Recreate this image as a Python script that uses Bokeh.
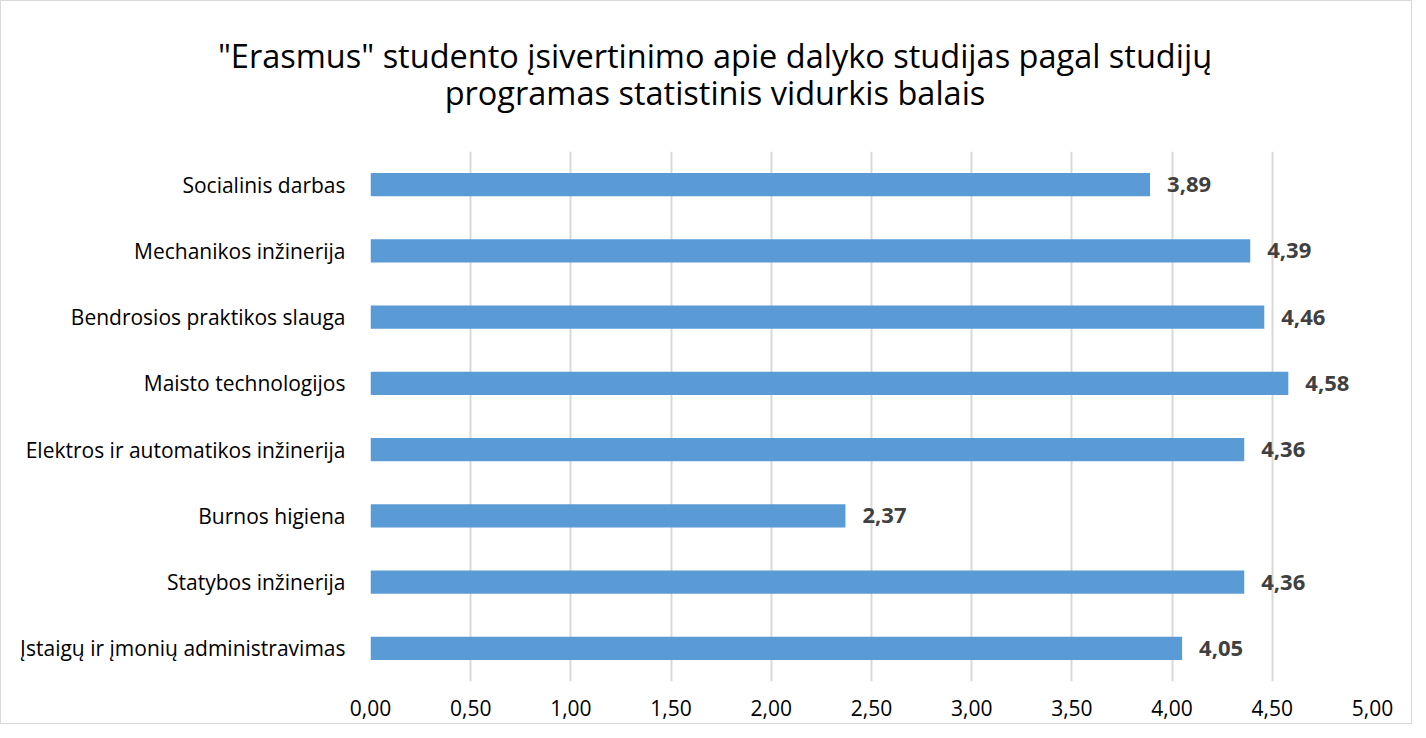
import html
from bokeh.plotting import figure
from bokeh.models import ColumnDataSource, FixedTicker, CustomJSTickFormatter, Div
from bokeh.layouts import column
from bokeh.core.properties import value
from bokeh.embed import file_html
from bokeh.resources import INLINE

categories = [
    "Socialinis darbas",
    "Mechanikos inžinerija",
    "Bendrosios praktikos slauga",
    "Maisto technologijos",
    "Elektros ir automatikos inžinerija",
    "Burnos higiena",
    "Statybos inžinerija",
    "Įstaigų ir įmonių administravimas",
]
values = [3.89, 4.39, 4.46, 4.58, 4.36, 2.37, 4.36, 4.05]
tick_values = [0.0, 0.5, 1.0, 1.5, 2.0, 2.5, 3.0, 3.5, 4.0, 4.5, 5.0]
tick_labels = ["0,00", "0,50", "1,00", "1,50", "2,00", "2,50", "3,00", "3,50", "4,00", "4,50", "5,00"]
title_lines = [
    "\"Erasmus\" studento įsivertinimo apie dalyko studijas pagal studijų",
    "programas statistinis vidurkis balais",
]

FONT = "Open Sans"
W, H = 1410, 722
TH = 150            # height of the title strip
FL, FR = 369, 1371  # frame left / right in picture pixels
FRAME_H = 530

# ---- title strip --------------------------------------------------------
title_html = (
    '<div style="position:relative;left:9px;width:%dpx;padding-top:36px;'
    "text-align:center;white-space:nowrap;"
    "font-family:'Open Sans';font-size:32.5px;line-height:37px;color:#000000;\">"
    % W
    + "<br>".join(html.escape(line) for line in title_lines)
    + "</div>"
)
title_div = Div(text=title_html, width=W, height=TH, margin=0)

# ---- bar chart ----------------------------------------------------------
source = ColumnDataSource(dict(
    cat=categories,
    val=values,
    lbl=[f"{v:.2f}".replace(".", ",") for v in values],
))

p = figure(
    width=W, height=H - TH,
    y_range=list(reversed(categories)),
    x_range=(0, 5),
    output_backend="svg",
    toolbar_location=None,
    min_border_left=FL, min_border_right=W - FR,
    min_border_top=0, min_border_bottom=H - TH - FRAME_H,
)
p.outline_line_color = None
p.background_fill_color = "white"
p.border_fill_color = "white"

p.hbar(y="cat", right="val", left=0, height=0.35, source=source,
       fill_color="#5B9BD5", line_color=None)

p.text(x="val", y="cat", text="lbl", source=source,
       x_offset=17, text_baseline="middle", text_align="left",
       text_font=value(FONT), text_font_style="bold",
       text_font_size="22px", text_color="#404040")

p.xaxis.ticker = FixedTicker(ticks=tick_values)
p.xaxis.formatter = CustomJSTickFormatter(
    args=dict(tvals=tick_values, tlabels=tick_labels),
    code="""
        let best = 0;
        for (let i = 0; i < tvals.length; i++) {
            if (Math.abs(tvals[i] - tick) < Math.abs(tvals[best] - tick)) best = i;
        }
        return tlabels[best];
    """)
for ax in (p.xaxis, p.yaxis):
    ax.axis_line_color = None
    ax.major_tick_line_color = None
    ax.minor_tick_line_color = None
    ax.major_label_text_font = FONT
    ax.major_label_text_font_size = "21px"
    ax.major_label_text_color = "#000000"
p.xaxis.major_label_standoff = 12
p.yaxis.major_label_standoff = 19

p.xgrid.ticker = FixedTicker(ticks=tick_values)
p.xgrid.grid_line_color = "#d9d9d9"
p.xgrid.grid_line_width = 2
p.ygrid.grid_line_color = None

layout = column(title_div, p, spacing=0)
layout.styles = {"border": "1px solid #d9d9d9", "background-color": "white"}

open("out.html", "w").write(file_html(layout, INLINE))
